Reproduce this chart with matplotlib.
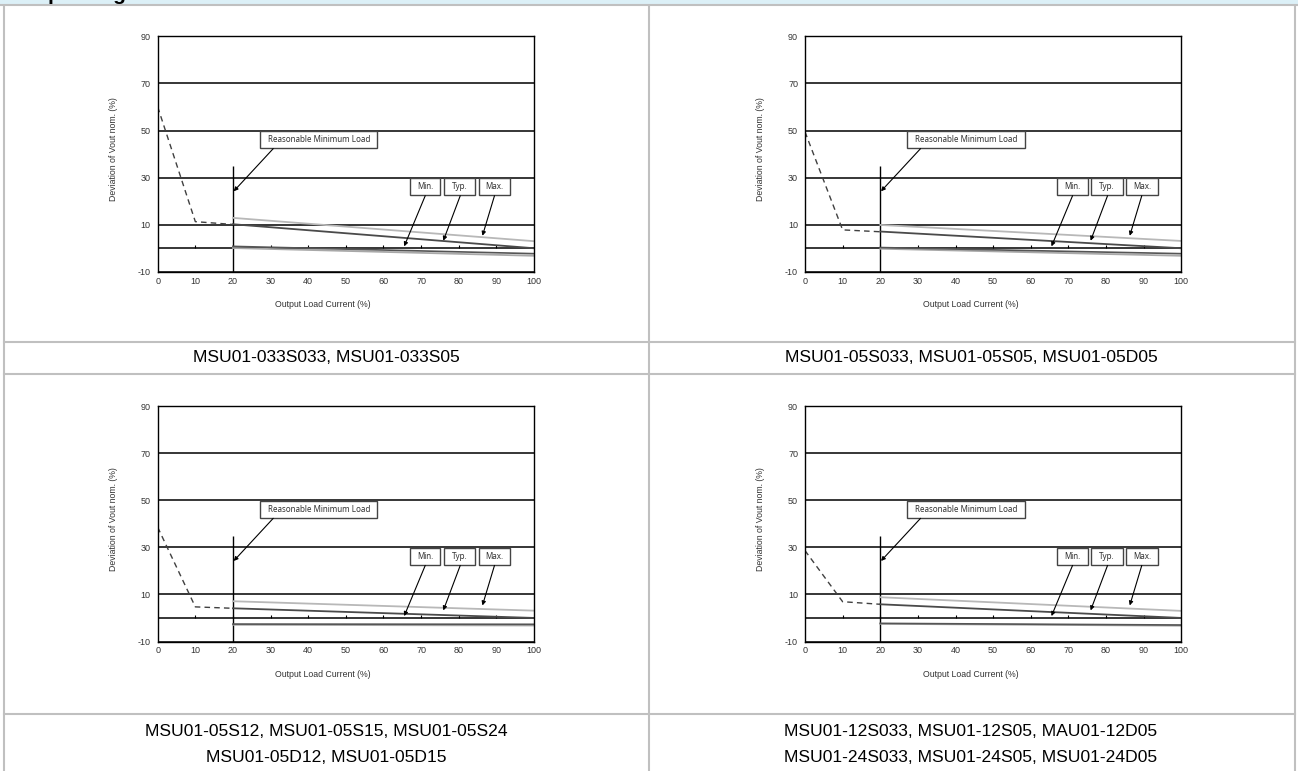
import matplotlib.pyplot as plt
from matplotlib.patches import Rectangle

plt.rcParams['axes.unicode_minus'] = False

# canvas size in pixels (dpi 100)
W, H = 1298, 771

# values: x = output load current (%), y = deviation (%)
x_dash = [0, 10, 20]
x_line = [20, 100]
dash_vals = [[60.0, 11.3, 10.1], [49.4, 7.8, 7.0], [38.5, 4.7, 4.1], [28.6, 6.9, 5.8]]
max_vals = [[12.9, 3.0], [9.9, 3.1], [7.1, 3.1], [8.8, 3.0]]
typ_vals = [[10.2, 0.0], [7.1, 0.0], [4.1, 0.0], [5.8, 0.0]]
min_vals = [[0.8, -2.3], [0.3, -2.3], [-2.6, -2.7], [-2.3, -3.0]]
low_vals = [[0.1, -3.2], [-0.2, -3.2], [-2.9, -3.2], [-2.5, -3.3]]

x_ticks = [0, 10, 20, 30, 40, 50, 60, 70, 80, 90, 100]
y_ticks = [-10, 10, 30, 50, 70, 90]

captions = [
    ["MSU01-033S033, MSU01-033S05"],
    ["MSU01-05S033, MSU01-05S05, MSU01-05D05"],
    ["MSU01-05S12, MSU01-05S15, MSU01-05S24", "MSU01-05D12, MSU01-05D15"],
    ["MSU01-12S033, MSU01-12S05, MAU01-12D05", "MSU01-24S033, MSU01-24S05, MSU01-24D05"],
]

tick_font = ['Liberation Sans', 'DejaVu Sans']
box_font = ['Noto Sans', 'DejaVu Sans']
cap_font = ['Liberation Sans', 'DejaVu Sans']

fig = plt.figure(figsize=(W / 100, H / 100), dpi=100)
fig.patch.set_facecolor('white')

# background layer in pixel coords for the table frame and captions
bg = fig.add_axes([0, 0, 1, 1], zorder=0)
bg.set_xlim(0, W)
bg.set_ylim(H, 0)
bg.axis('off')

# header strip, its title is cut off at the top edge like in the source page
bg.add_patch(Rectangle((0, 0), W, 4.5, facecolor='#dcf0f7', edgecolor='none'))
bg.text(12, 0, 'Output Regulation', fontsize=15, fontweight='bold',
        family=tick_font, va='baseline', ha='left', color='black')

grey = '#c0c0c0'
for xx in [3.5, 648.5, 1294.5]:
    bg.plot([xx, xx], [4.5, H], color=grey, lw=1.5, solid_capstyle='butt')
for yy in [4.5, 342, 374, 714]:
    lo = 0 if yy == 4.5 else 3.5
    bg.plot([lo, W if yy == 4.5 else 1294.5], [yy, yy], color=grey, lw=1.5)

cap_x = [326, 971, 326, 971]
cap_y = [[358], [358], [731, 757], [731, 757]]
for i in range(4):
    for line, yy in zip(captions[i], cap_y[i]):
        bg.text(cap_x[i], yy, line, fontsize=12.6, family=cap_font,
                ha='center', va='center', color='black')

# chart placement (pixels)
col_left = [157.7, 805.0]
row_top = [36.3, 406.0]
ax_w, ax_h = 376.3, 235.5

for i in range(4):
    left = col_left[i % 2]
    top = row_top[i // 2]
    ax = fig.add_axes([left / W, (H - top - ax_h) / H, ax_w / W, ax_h / H], zorder=1)
    ax.set_xlim(0, 100)
    ax.set_ylim(-10, 90)
    ax.set_xticks(x_ticks)
    ax.set_yticks(y_ticks)
    ax.tick_params(axis='both', length=0, labelsize=6.5, labelcolor='#333333')
    ax.tick_params(axis='x', pad=3.5)
    ax.tick_params(axis='y', pad=5)
    for lab in ax.get_xticklabels() + ax.get_yticklabels():
        lab.set_family(tick_font)
    for sp in ax.spines.values():
        sp.set_color('black')
        sp.set_linewidth(1)
    ax.grid(axis='y', color='black', lw=1.1)
    ax.set_axisbelow(True)

    ax.axhline(0, color='black', lw=1.1)
    ax.vlines(x_ticks[1:-1], 0, 1.3, color='black', lw=0.8)
    ax.vlines(20, -10, 35, color='black', lw=1)

    ax.plot(x_dash, dash_vals[i], color='#404040', lw=1, dashes=(4, 3))
    ax.plot(x_line, low_vals[i], color='#a8a8a8', lw=1.3)
    ax.plot(x_line, min_vals[i], color='#555555', lw=1.2)
    ax.plot(x_line, max_vals[i], color='#b8b8b8', lw=1.3)
    ax.plot(x_line, typ_vals[i], color='#4a4a4a', lw=1.3)

    ax.set_xlabel('Output Load Current (%)', fontsize=6.3, family=tick_font, color='#333333')
    ax.set_ylabel('Deviation of Vout nom. (%)', fontsize=6.3, family=tick_font, color='#333333')
    ax.xaxis.set_label_coords(0.44, -0.12)
    ax.yaxis.set_label_coords(-0.105, 0.52)

    # callout boxes
    boxes = [('Reasonable Minimum Load', 27.2, 58.4, 42.5, 49.6),
             ('Min.', 67.0, 75.1, 22.5, 29.9),
             ('Typ.', 76.1, 84.4, 22.5, 29.9),
             ('Max.', 85.4, 93.7, 22.5, 29.9)]
    for txt, x0, x1, y0, y1 in boxes:
        ax.add_patch(Rectangle((x0, y0), x1 - x0, y1 - y0, facecolor='white',
                               edgecolor='#444444', lw=1, zorder=4))
        ax.text((x0 + x1) / 2, (y0 + y1) / 2, txt, fontsize=5.8, family=box_font,
                ha='center', va='center', color='#333333', zorder=5)

    arrows = [((30.7, 42.3), (20.2, 24.2)),
              ((71.1, 22.3), (65.5, 0.8)),
              ((80.4, 22.3), (75.9, 3.2)),
              ((89.5, 22.3), (86.3, 5.3))]
    for start, tip in arrows:
        ax.annotate('', xy=tip, xytext=start, zorder=5,
                    arrowprops=dict(arrowstyle='-|>', color='black', lw=0.8,
                                    mutation_scale=6, shrinkA=0, shrinkB=0))

fig.savefig('out.png', dpi=100)
